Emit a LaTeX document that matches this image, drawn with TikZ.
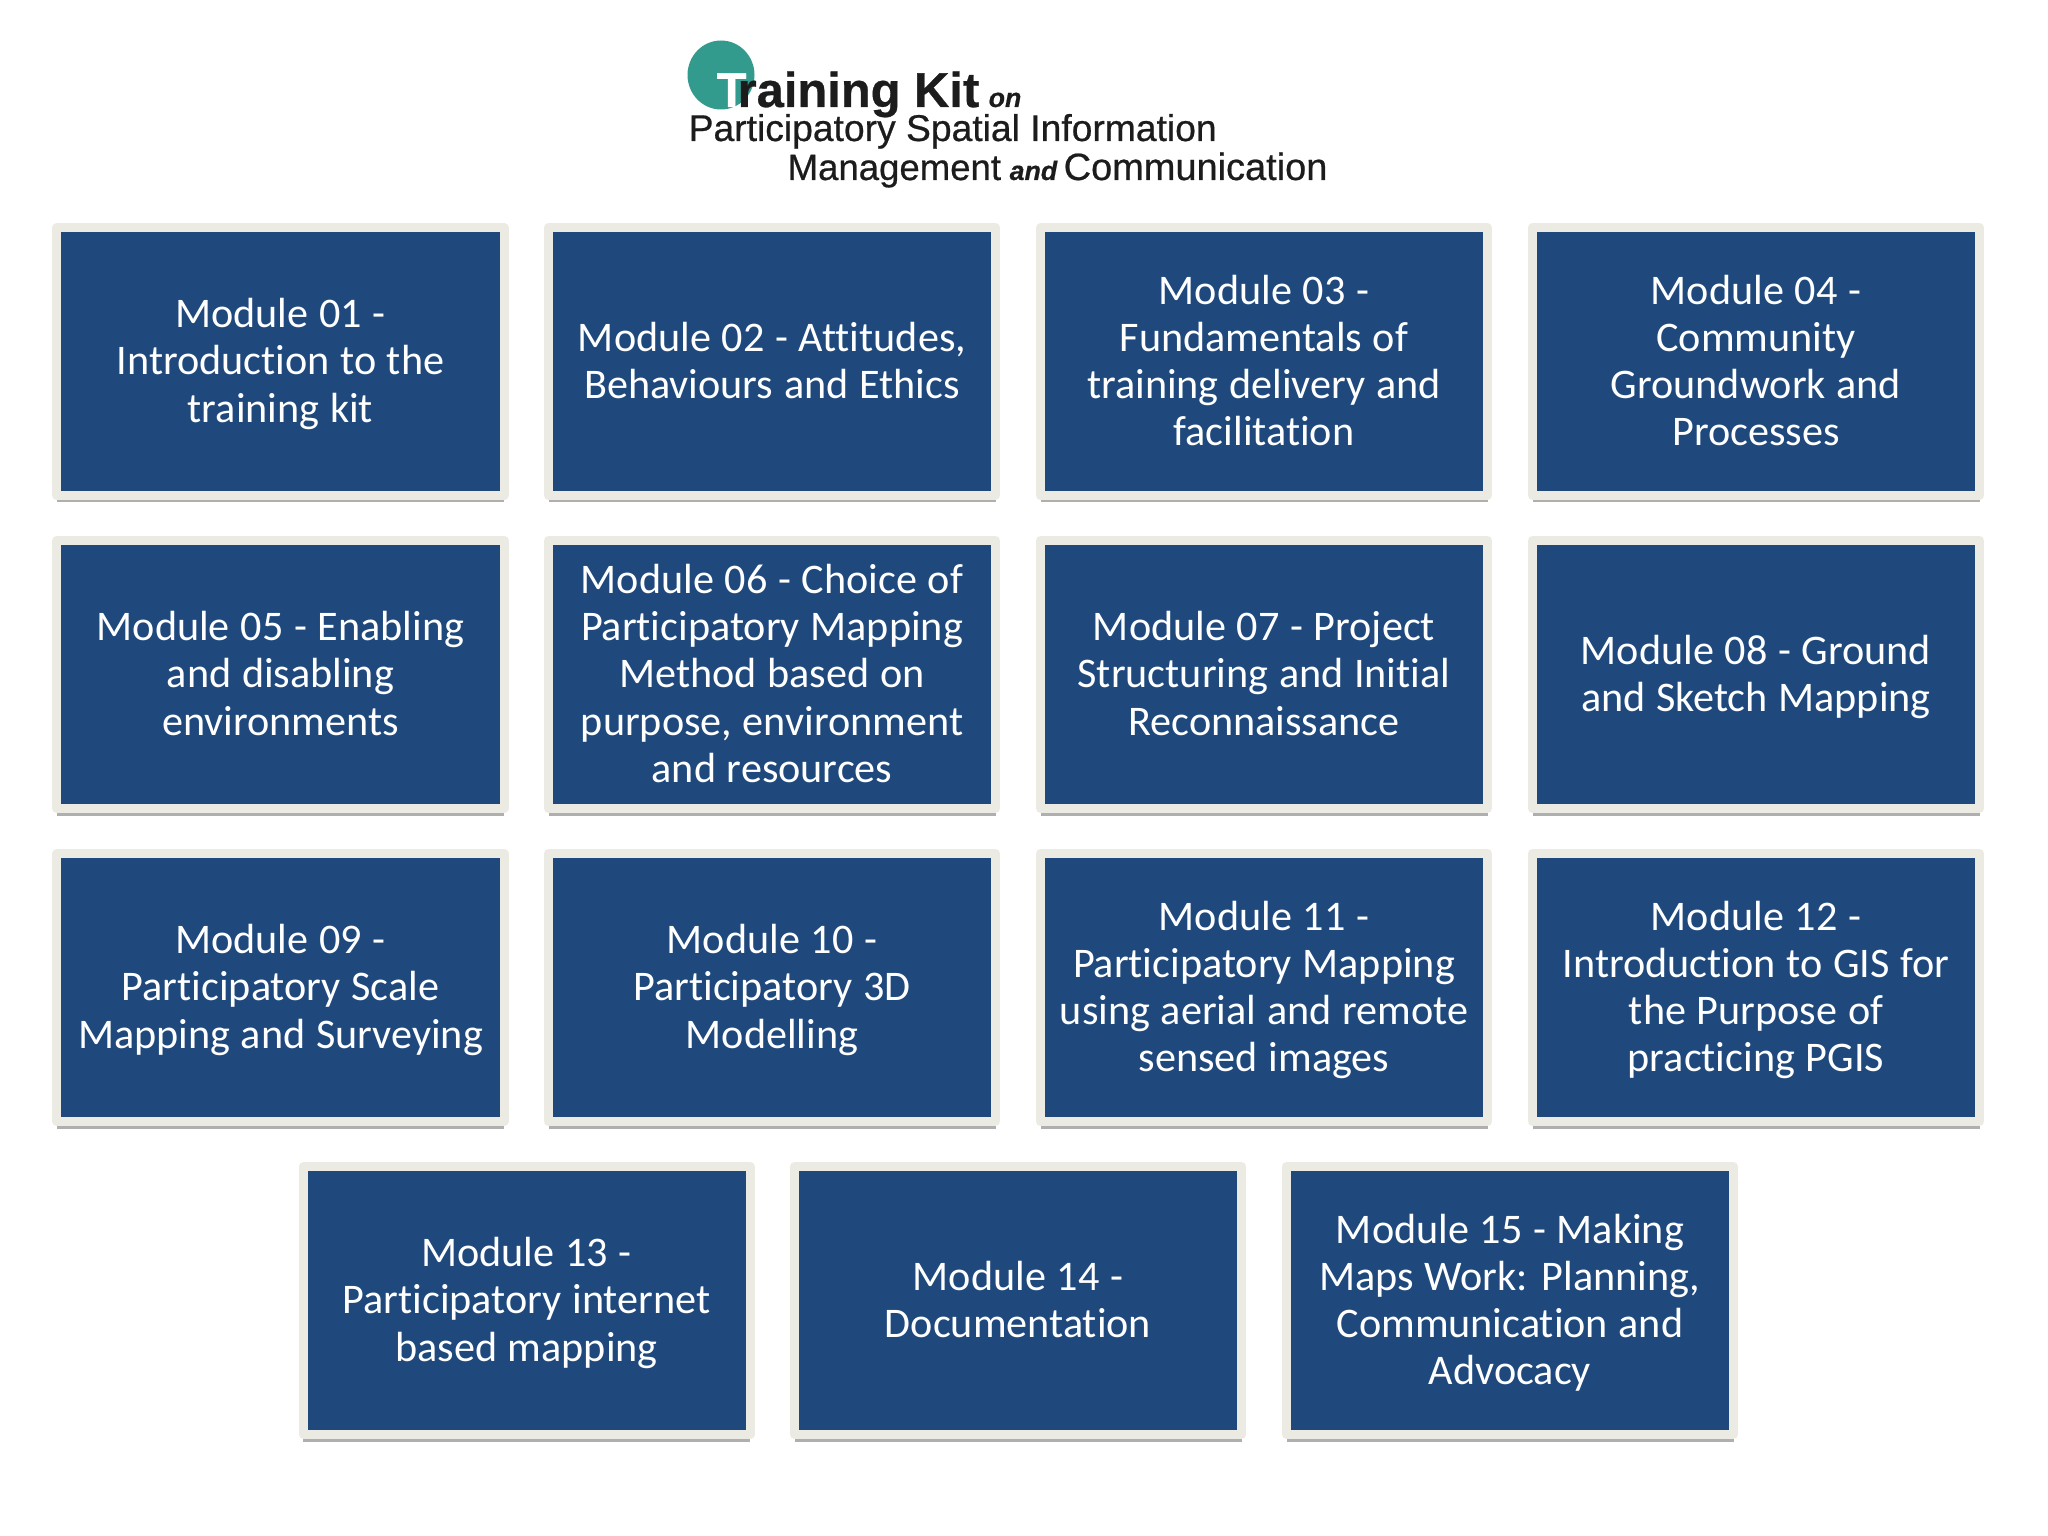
\documentclass[tikz,border=0pt]{standalone}
\usepackage{fontspec}
\setmainfont{Carlito}[WordSpace=1.12,Ligatures=NoCommon]
\newfontfamily\logofont{Liberation Sans}[FakeBold=0.6]
\usetikzlibrary{shadows,shapes.geometric}
\definecolor{moduleblue}{HTML}{1F497D}
\definecolor{moduleframe}{HTML}{ECEBE3}
\definecolor{logoteal}{HTML}{339A8E}
\definecolor{logoink}{HTML}{1C1C1C}
\tikzset{
  modulebox/.style={draw=moduleframe,fill=moduleblue,line width=0.09cm,line join=round,
    minimum width=4.47cm,minimum height=2.68cm,text width=4.35cm,align=flush center,text=white,
    inner sep=0pt,font=\fontsize{12pt}{13.4pt}\selectfont,
    execute at begin node=\rule{0pt}{11.7pt},execute at end node=\strut,
    drop shadow={shadow xshift=0cm,shadow yshift=-0.07cm,fill=black!35,opacity=0.9}},
  logotext/.style={anchor=base west,inner sep=0pt,text=logoink,font=\logofont\fontsize{#1}{#1}\selectfont}
}
\begin{document}
\begin{tikzpicture}
  \useasboundingbox (0,0) rectangle (20.48,-15.36);
  % logo
  \node[ellipse,fill=logoteal,minimum width=0.67cm,minimum height=0.69cm,inner sep=0pt] (logodot) at (7.21,-0.75) {};
  \node[logotext=13.9pt,text=white] (logot) at (7.16,-1.07) {\bfseries T};
  \node[logotext=13.9pt] (logokit) at (7.37,-1.07) {\bfseries raining Kit};
  \node[logotext=7.6pt] (logoon) at (9.88,-1.07) {\itshape\bfseries on};
  \node[logotext=10.6pt] (logoa) at (6.88,-1.41) {Participatory Spatial Information};
  \node[logotext=10.4pt] (logob) at (7.87,-1.80) {Management};
  \node[logotext=7.6pt] (logoand) at (10.09,-1.80) {\itshape\bfseries and};
  \node[logotext=10.8pt] (logoc) at (10.63,-1.80) {Communication};
  % first row
  \node[modulebox] (m01) at (2.805,-3.615) {Module 01 -\\Introduction to the\\training kit};
  \node[modulebox] (m02) at (7.72,-3.615) {Module 02 - Attitudes,\\Behaviours and Ethics};
  \node[modulebox] (m03) at (12.64,-3.615) {Module 03 -\\Fundamentals of\\training delivery and\\facilitation};
  \node[modulebox] (m04) at (17.56,-3.615) {Module 04 -\\Community\\Groundwork and\\Processes};
  % second row
  \node[modulebox] (m05) at (2.805,-6.745) {Module 05 - Enabling\\and disabling\\environments};
  \node[modulebox] (m06) at (7.72,-6.745) {Module 06 - Choice of\\Participatory Mapping\\Method based on\\purpose, environment\\and resources};
  \node[modulebox] (m07) at (12.64,-6.745) {Module 07 - Project\\Structuring and Initial\\Reconnaissance};
  \node[modulebox] (m08) at (17.56,-6.745) {Module 08 - Ground\\and Sketch Mapping};
  % third row
  \node[modulebox] (m09) at (2.805,-9.875) {Module 09 -\\Participatory Scale\\Mapping and Surveying};
  \node[modulebox] (m10) at (7.72,-9.875) {Module 10 -\\Participatory 3D\\Modelling};
  \node[modulebox] (m11) at (12.64,-9.875) {Module 11 -\\Participatory Mapping\\using aerial and remote\\sensed images};
  \node[modulebox] (m12) at (17.56,-9.875) {Module 12 -\\Introduction to GIS for\\the Purpose of\\practicing PGIS};
  % last row
  \node[modulebox] (m13) at (5.265,-13.005) {Module 13 -\\Participatory internet\\based mapping};
  \node[modulebox] (m14) at (10.18,-13.005) {Module 14 -\\Documentation};
  \node[modulebox] (m15) at (15.10,-13.005) {Module 15 - Making\\Maps Work: Planning,\\Communication and\\Advocacy};
\end{tikzpicture}
\end{document}
